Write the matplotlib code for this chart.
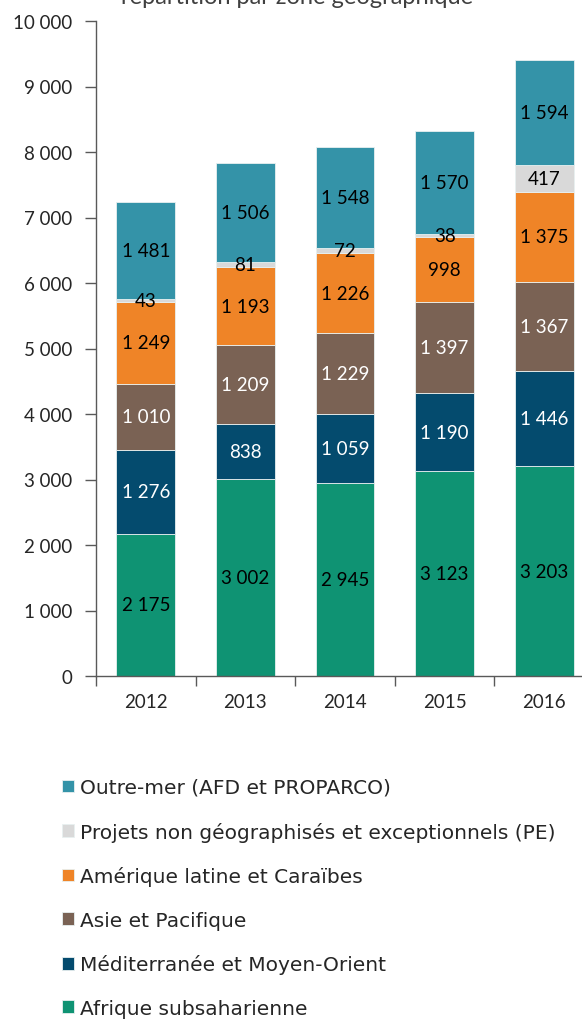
import matplotlib.pyplot as plt
import numpy as np

plt.rcParams["font.family"] = ["Lato", "DejaVu Sans"]

# ---------- données ----------
annees = ["2012", "2013", "2014", "2015", "2016"]

afrique = [2175, 3002, 2945, 3123, 3203]
mediterranee = [1276, 838, 1059, 1190, 1446]
asie = [1010, 1209, 1229, 1397, 1367]
amerique = [1249, 1193, 1226, 998, 1375]
projets_pe = [43, 81, 72, 38, 417]
outre_mer = [1481, 1506, 1548, 1570, 1594]

series = [
    ("Afrique subsaharienne", afrique, "#0F9373", "black"),
    ("Méditerranée et Moyen-Orient", mediterranee, "#044B6E", "white"),
    ("Asie et Pacifique", asie, "#7A6254", "white"),
    ("Amérique latine et Caraïbes", amerique, "#EF8427", "black"),
    ("Projets non géographisés et exceptionnels (PE)", projets_pe, "#D9D9D9", "black"),
    ("Outre-mer (AFD et PROPARCO)", outre_mer, "#3493A8", "black"),
]

y_ticks = [0, 1000, 2000, 3000, 4000, 5000, 6000, 7000, 8000, 9000, 10000]
y_labels = ["0", "1 000", "2 000", "3 000", "4 000", "5 000",
            "6 000", "7 000", "8 000", "9 000", "10 000"]

titre = "répartition par zone géographique"


def fmt(v):
    return f"{v:,}".replace(",", " ")


# ---------- figure ----------
fig = plt.figure(figsize=(5.82, 10.2), dpi=100)
ax = fig.add_axes([96 / 582, 1 - 677 / 1020, 498 / 582, 655 / 1020])

x = np.arange(len(annees))
bas = np.zeros(len(annees))
handles = []
for nom, vals, couleur, txt in series:
    vals = np.array(vals, dtype=float)
    bars = ax.bar(x, vals, width=0.59, bottom=bas, color=couleur,
                  edgecolor="#E8F0F0", linewidth=0.6, label=nom)
    handles.append(bars)
    for xi, b, v in zip(x, bas, vals):
        ax.text(xi, b + v / 2, fmt(int(v)), ha="center", va="center",
                fontsize=13.5, color=txt)
    bas += vals

ax.set_xlim(-0.5, len(annees) - 0.5)
ax.set_ylim(0, 10000)
ax.set_yticks(y_ticks)
ax.set_yticklabels(y_labels)

# graduations x aux frontières, étiquettes au centre
ax.set_xticks(np.arange(len(annees) + 1) - 0.5)
ax.set_xticklabels([])
ax.set_xticks(x, minor=True)
ax.set_xticklabels(annees, minor=True)
ax.tick_params(axis="x", which="major", length=7, width=1, color="#595959")
ax.tick_params(axis="x", which="minor", length=0, pad=12,
               labelsize=13.5, labelcolor="#262626")
ax.tick_params(axis="y", length=8, width=1, color="#595959", pad=9,
               labelsize=13.5, labelcolor="#262626")

for s in ["top", "right"]:
    ax.spines[s].set_visible(False)
for s in ["left", "bottom"]:
    ax.spines[s].set_color("#595959")
    ax.spines[s].set_linewidth(1)

# titre coupé en haut, comme dans l'original
fig.text(297 / 582, 1 - 4 / 1020, titre, ha="center", va="baseline",
         fontsize=17, color="#404040")

leg = fig.legend(handles[::-1], [s[0] for s in series][::-1],
                 loc="upper left", bbox_to_anchor=(62 / 582, 1 - 779 / 1020),
                 frameon=False, handlelength=0.6, handleheight=0.6,
                 handletextpad=0.3, labelspacing=1.22, borderpad=0,
                 borderaxespad=0,
                 prop={"family": "DejaVu Sans", "size": 14.5})
for t in leg.get_texts():
    t.set_color("#262626")

fig.savefig("out.png", dpi=100)
